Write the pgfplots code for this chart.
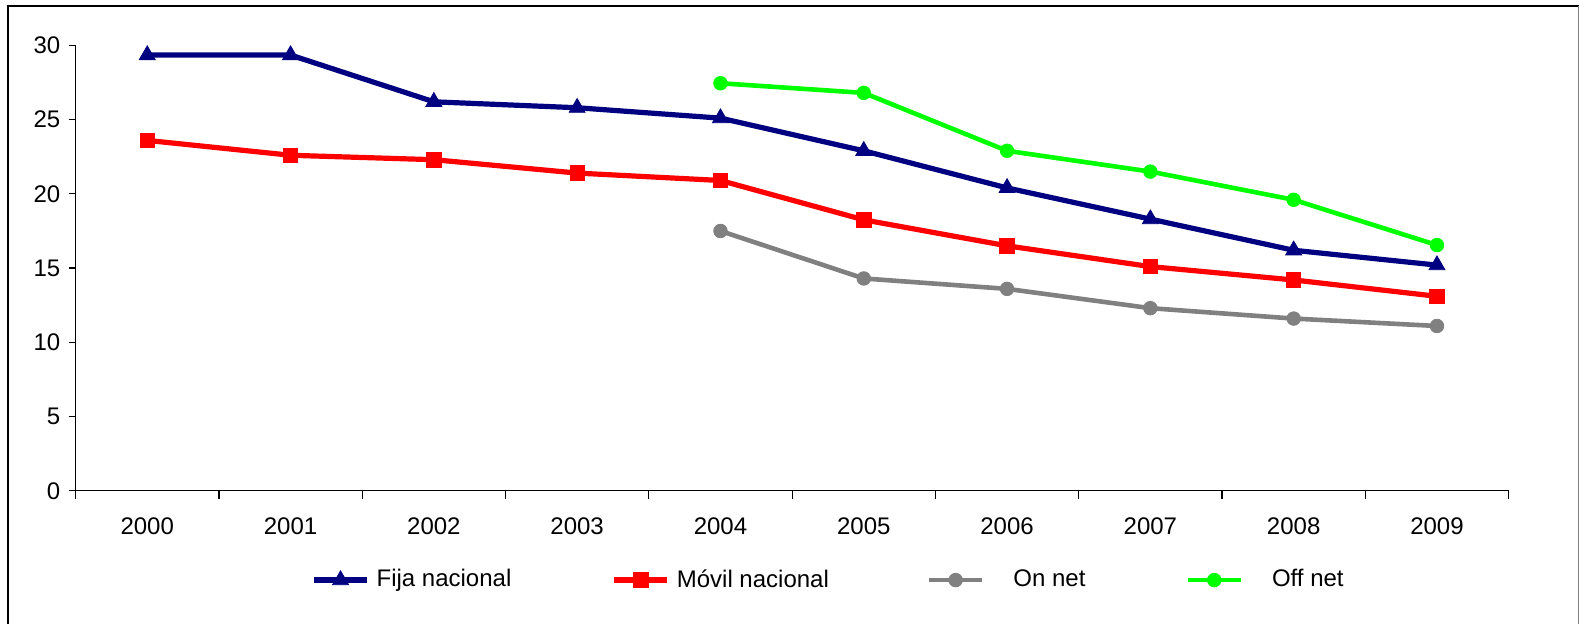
\documentclass[border=0pt]{standalone}
\usepackage{fontspec}
\setmainfont{Liberation Sans}
\usepackage{pgfplots}
\pgfplotsset{compat=1.18}
\definecolor{fija}{RGB}{0,0,128}
\definecolor{movil}{RGB}{255,0,0}
\definecolor{onnet}{RGB}{128,128,128}
\definecolor{offnet}{RGB}{0,255,0}
\begin{document}
\fontsize{12}{14.4}\selectfont
\begin{tikzpicture}
\useasboundingbox (0,0) rectangle (790pt,312pt);
\begin{axis}[
  at={(37.8pt,66.6pt)}, anchor=south west,
  scale only axis, width=716.5pt, height=222.7pt,
  xmin=-0.5, xmax=9.5, ymin=0, ymax=30,
  clip=false,
  axis x line*=bottom, axis y line*=left,
  axis line style={line width=0.6pt},
  xtick={0,...,9},
  xticklabels={2000,2001,2002,2003,2004,2005,2006,2007,2008,2009},
  major x tick style={draw=none},
  minor xtick={-0.5,0.5,...,9.5},
  ytick={0,5,...,30},
  tick align=outside,
  major tick length=3.5pt, minor tick length=4pt,
  tick style={black, line width=0.6pt},
  tick label style={font=\fontsize{12}{14.4}\selectfont},
  xticklabel style={yshift=-6pt},
  /pgf/number format/assume math mode=true,
  legend columns=4,
  legend cell align=left,
  legend style={at={(0.1643,-0.2005)}, anchor=west, draw=none, fill=none,
    inner sep=0pt, font=\fontsize{12}{14.4}\selectfont,
    nodes={inner sep=0pt, anchor=west},
    /tikz/every odd column/.style={column sep=3.5pt},
    /tikz/every even column/.style={column sep=0pt}},
  legend image code/.code={
    \draw[mark repeat=2, mark phase=2, #1] plot coordinates {(0pt,0pt) (13.25pt,0pt) (26.5pt,0pt)};},
]
\addplot[color=fija, line width=2.6pt, mark=triangle*, mark size=4.6pt, mark options={line width=0.4pt}]
  coordinates {(0,29.35) (1,29.35) (2,26.2) (3,25.8) (4,25.1) (5,22.9) (6,20.4) (7,18.3) (8,16.2) (9,15.2)};
\addlegendentry{\makebox[117.5pt][l]{Fija nacional}}
\addplot[color=movil, line width=2.6pt, mark=square*, mark size=3.6pt, mark options={line width=0.4pt}]
  coordinates {(0,23.6) (1,22.6) (2,22.3) (3,21.4) (4,20.9) (5,18.25) (6,16.5) (7,15.1) (8,14.2) (9,13.1)};
\addlegendentry{\makebox[125pt][l]{Móvil nacional}}
\addplot[color=onnet, line width=2.3pt, mark=*, mark size=3.4pt, mark options={line width=0.4pt}]
  coordinates {(4,17.5) (5,14.3) (6,13.6) (7,12.3) (8,11.6) (9,11.1)};
\addlegendentry{\makebox[97pt][l]{\hspace{11pt}On net}}
\addplot[color=offnet, line width=2.3pt, mark=*, mark size=3.4pt, mark options={line width=0.4pt}]
  coordinates {(4,27.45) (5,26.8) (6,22.9) (7,21.5) (8,19.6) (9,16.55)};
\addlegendentry{\hspace{11pt}Off net}
\end{axis}
\draw[line width=0.8pt] (4pt,0pt) -- (4pt,309pt) -- (789.3pt,309pt);
\draw[gray, line width=0.6pt] (789.3pt,309pt) -- (789.3pt,0pt);
\end{tikzpicture}
\end{document}
